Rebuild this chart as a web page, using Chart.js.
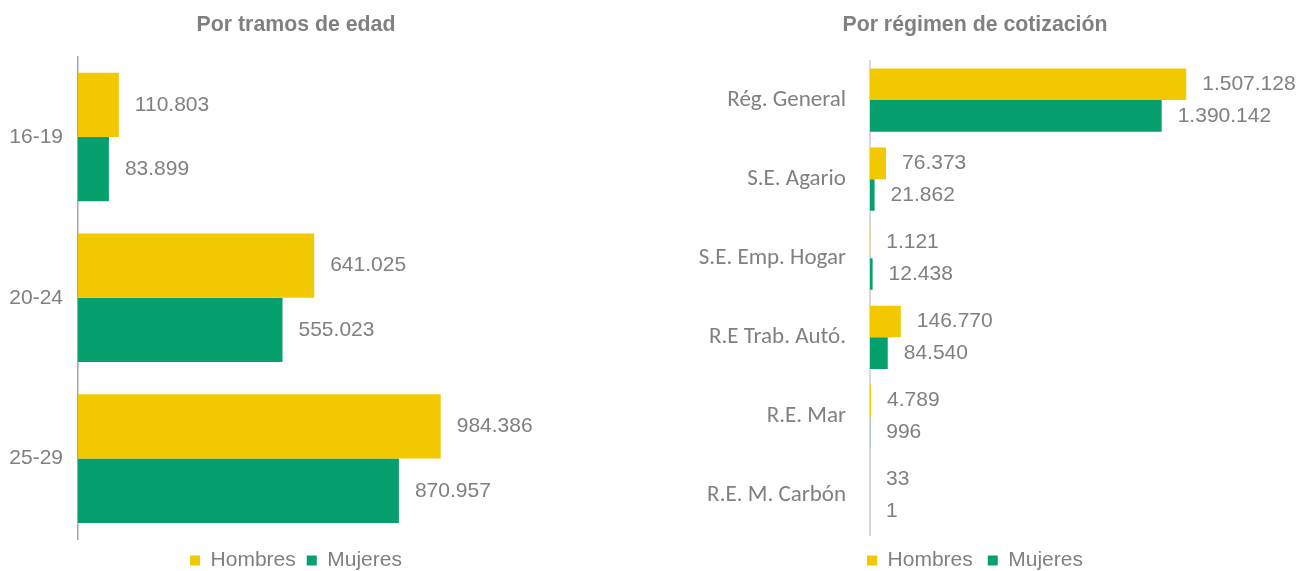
<!DOCTYPE html>
<html>
<head>
<meta charset="utf-8">
<script src="https://cdn.jsdelivr.net/npm/chart.js@4/dist/chart.umd.min.js"></script>
<style>
  html, body { margin: 0; padding: 0; background: #fff; overflow: hidden; }
  #edadChart { position: absolute; left: 0; top: 0; }
  #regimenChart { position: absolute; left: 653px; top: 0; }
</style>
</head>
<body>
<canvas id="edadChart" width="592" height="581"></canvas>
<canvas id="regimenChart" width="644" height="581"></canvas>
<script>
// Left chart: por tramos de edad
var edadLabels = ['16-19', '20-24', '25-29'];
var edadHombres = [110803, 641025, 984386];
var edadMujeres = [83899, 555023, 870957];

// Right chart: por régimen de cotización
var regimenLabels = ['Rég. General', 'S.E. Agario', 'S.E. Emp. Hogar', 'R.E Trab. Autó.', 'R.E. Mar', 'R.E. M. Carbón'];
var regimenHombres = [1507128, 76373, 1121, 146770, 4789, 33];
var regimenMujeres = [1390142, 21862, 12438, 84540, 996, 1];

var yellow = '#F2C800';
var green = '#06A06E';
var grey = '#808080';

// thousands with a dot, also for 4-digit numbers (1.121)
function fmt(v) {
    return String(v).replace(/\B(?=(\d{3})+(?!\d))/g, '.');
}

// draws the value next to the end of each bar
var valueLabels = {
    id: 'valueLabels',
    afterDatasetsDraw: function(chart, args, opts) {
        var ctx = chart.ctx;
        ctx.save();
        ctx.font = opts.font;
        ctx.fillStyle = opts.color;
        ctx.textAlign = 'left';
        ctx.textBaseline = 'middle';
        chart.data.datasets.forEach(function(ds, i) {
            chart.getDatasetMeta(i).data.forEach(function(bar, j) {
                ctx.fillText(fmt(ds.data[j]), bar.x + opts.offset, bar.y);
            });
        });
        ctx.restore();
    }
};

function makeChart(id, cfg) {
    return new Chart(document.getElementById(id), {
        type: 'bar',
        data: {
            labels: cfg.labels,
            datasets: [
                { label: 'Hombres', data: cfg.hombres, backgroundColor: yellow,
                  barPercentage: 1, categoryPercentage: 0.8 },
                { label: 'Mujeres', data: cfg.mujeres, backgroundColor: green,
                  barPercentage: 1, categoryPercentage: 0.8 }
            ]
        },
        plugins: [valueLabels],
        options: {
            indexAxis: 'y',
            responsive: false,
            animation: false,
            devicePixelRatio: 1,
            layout: { padding: 0 },
            plugins: {
                title: {
                    display: true,
                    text: cfg.title,
                    color: grey,
                    font: { family: 'Liberation Sans, Arial, sans-serif', size: 21.3, weight: 'bold' },
                    padding: { top: 12, bottom: cfg.titleBottom }
                },
                legend: {
                    position: 'bottom',
                    labels: {
                        color: grey,
                        font: { family: 'Liberation Sans, Arial, sans-serif', size: 21 },
                        boxWidth: 10,
                        boxHeight: 10,
                        padding: cfg.legendPad
                    }
                },
                tooltip: { enabled: false },
                valueLabels: {
                    font: '21px "Liberation Sans", Arial, sans-serif',
                    color: grey,
                    offset: 16
                }
            },
            scales: {
                x: {
                    display: false,
                    min: 0,
                    max: cfg.max
                },
                y: {
                    grid: { display: false, drawTicks: false },
                    border: { display: true, color: cfg.axisColor, width: cfg.axisWidth },
                    ticks: {
                        color: grey,
                        padding: cfg.tickPad,
                        font: cfg.tickFont
                    },
                    afterFit: function(scale) {
                        scale.width = cfg.axisWidthPx;
                    }
                }
            }
        }
    });
}

var edadChart = makeChart('edadChart', {
    title: 'Por tramos de edad',
    labels: edadLabels,
    hombres: edadHombres,
    mujeres: edadMujeres,
    max: 1395000,
    titleBottom: 19,
    legendPad: 11,
    axisColor: '#a6a6a6',
    axisWidth: 1.5,
    tickPad: 15,
    tickFont: { family: 'Liberation Sans, Arial, sans-serif', size: 21 },
    axisWidthPx: 78
});

var regimenChart = makeChart('regimenChart', {
    title: 'Por régimen de cotización',
    labels: regimenLabels,
    hombres: regimenHombres,
    mujeres: regimenMujeres,
    max: 2035000,
    titleBottom: 23,
    legendPad: 15,
    axisColor: '#d9d9d9',
    axisWidth: 2,
    tickPad: 24,
    tickFont: { family: 'Carlito, Lato, sans-serif', size: 23 },
    axisWidthPx: 217
});
</script>
</body>
</html>
